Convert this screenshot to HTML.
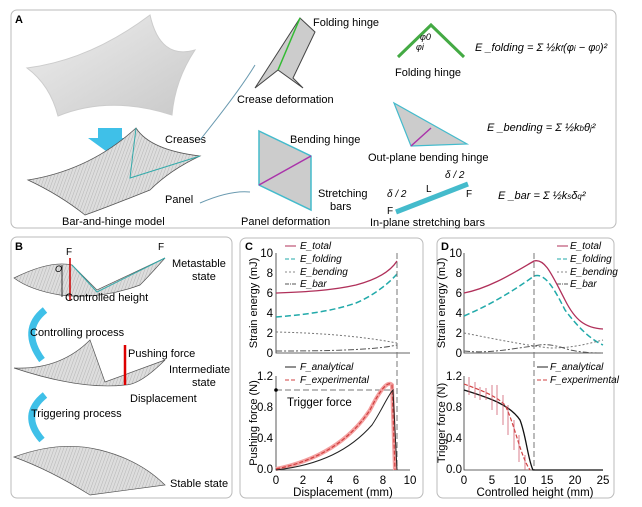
<!DOCTYPE html>
<html><head><meta charset="utf-8"><style>
body{margin:0;background:#fff}
svg{display:block;font-family:"Liberation Sans",sans-serif}
</style></head><body>
<svg width="642" height="507" viewBox="0 0 642 507">
<defs>
<linearGradient id="g1" x1="0" y1="0" x2="1" y2="1"><stop offset="0" stop-color="#eee"/><stop offset="1" stop-color="#c9c9c9"/></linearGradient>
<pattern id="hatch" width="3" height="3" patternUnits="userSpaceOnUse" patternTransform="rotate(20)"><rect width="3" height="3" fill="#ddd"/><line x1="0" y1="0" x2="0" y2="3" stroke="#999" stroke-width="0.6"/></pattern>
</defs>
<!-- panel boxes -->
<rect x="11" y="10" width="605" height="218" rx="6" fill="none" stroke="#bbb"/>
<rect x="11" y="237" width="221" height="261" rx="6" fill="none" stroke="#bbb"/>
<rect x="240" y="238" width="183" height="260" rx="6" fill="none" stroke="#bbb"/>
<rect x="437" y="238" width="177" height="260" rx="6" fill="none" stroke="#bbb"/>
<g font-weight="bold" font-size="11"><text x="15" y="23">A</text><text x="15" y="250">B</text><text x="245" y="250">C</text><text x="441" y="250">D</text></g>

<!-- Panel A illustrations -->
<path d="M27,68 Q90,60 150,15 Q160,60 195,50 Q175,80 172,115 Q110,95 58,116 Q50,85 27,68Z" fill="url(#g1)" stroke="#ccc"/>
<path d="M98,128 h24 v10 h10 l-22,16 l-22,-16 h10z" fill="#3fc0e8"/>
<path d="M28,180 Q90,170 136,128 Q150,150 200,156 Q170,170 150,190 Q100,210 85,215 Q60,195 28,180Z" fill="url(#hatch)" stroke="#555" stroke-width="0.8"/>
<path d="M136,128 L130,178 L200,156" fill="none" stroke="#3aa" stroke-width="1"/>
<text x="165" y="143" font-size="11">Creases</text>
<text x="165" y="203" font-size="11">Panel</text>
<text x="62" y="225" font-size="11">Bar-and-hinge model</text>
<path d="M200,140 Q240,90 255,65" fill="none" stroke="#6a9ab0"/>
<path d="M200,203 Q230,190 250,192" fill="none" stroke="#6a9ab0"/>
<path d="M255,88 L300,18 L315,32 L293,78 L303,88 L278,70 Z" fill="#ccc" stroke="#444"/>
<line x1="300" y1="18" x2="278" y2="70" stroke="#3b3" stroke-width="1.5"/>
<text x="313" y="26" font-size="11">Folding hinge</text>
<text x="237" y="103" font-size="11">Crease deformation</text>
<path d="M259,131 L311,156 L311,210 L259,185Z" fill="#ccc" stroke="#4bc" stroke-width="1.5"/>
<line x1="259" y1="185" x2="311" y2="156" stroke="#a3a" stroke-width="1.5"/>
<text x="290" y="143" font-size="11">Bending hinge</text>
<text x="318" y="197" font-size="11">Stretching</text><text x="330" y="210" font-size="11">bars</text>
<text x="241" y="225" font-size="11">Panel deformation</text>
<path d="M398,57 L431,25 L464,57" fill="none" stroke="#4a4" stroke-width="3"/>
<text x="420" y="40" font-size="9" font-style="italic">φ0</text><text x="416" y="50" font-size="9" font-style="italic">φi</text>
<text x="395" y="76" font-size="11">Folding hinge</text>
<text x="475" y="51" font-size="11" font-style="italic">E _folding = Σ ½k<tspan font-size="8">f</tspan>(φ<tspan font-size="8">i</tspan> − φ<tspan font-size="8">0</tspan>)²</text>
<path d="M394,103 L411,146 L467,144Z" fill="#ccc" stroke="#4bc" stroke-width="1.2"/>
<line x1="411" y1="146" x2="431" y2="128" stroke="#a3a" stroke-width="1.5"/>
<text x="368" y="161" font-size="11">Out-plane bending hinge</text>
<text x="487" y="131" font-size="11" font-style="italic">E _bending = Σ ½k<tspan font-size="8">b</tspan>θ<tspan font-size="8">j</tspan>²</text>
<line x1="396" y1="212" x2="468" y2="184" stroke="#4bc" stroke-width="5"/>
<text x="387" y="197" font-size="10" font-style="italic">δ / 2</text><text x="426" y="192" font-size="10">L</text><text x="445" y="178" font-size="10" font-style="italic">δ / 2</text>
<text x="387" y="214" font-size="10">F</text><text x="466" y="197" font-size="10">F</text>
<text x="370" y="226" font-size="11">In-plane stretching bars</text>
<text x="498" y="199" font-size="11" font-style="italic">E _bar = Σ ½k<tspan font-size="8">s</tspan>δ<tspan font-size="8">q</tspan>²</text>

<!-- Panel B -->
<path d="M14,278 Q50,260 72,265 L97,290 L165,258 Q150,275 140,285 Q100,300 60,295 Q30,290 14,278Z" fill="url(#hatch)" stroke="#555" stroke-width="0.7"/>
<path d="M72,265 L97,292 L165,258" fill="none" stroke="#3aa"/>
<text x="172" y="267" font-size="11">Metastable</text><text x="192" y="280" font-size="11">state</text>
<line x1="70" y1="258" x2="70" y2="300" stroke="#c00" stroke-width="1.5"/><text x="66" y="255" font-size="10">F</text><text x="158" y="250" font-size="10">F</text>
<line x1="62" y1="265" x2="62" y2="297" stroke="#333"/><text x="55" y="272" font-size="9" font-style="italic">O</text>
<text x="65" y="301" font-size="11">Controlled height</text>
<path d="M45,310 Q20,330 42,360" fill="none" stroke="#3fc0e8" stroke-width="7"/>
<text x="30" y="336" font-size="11">Controlling process</text>
<path d="M14,368 Q60,370 90,340 L105,382 L165,360 Q140,385 125,385 Q80,390 14,368Z" fill="url(#hatch)" stroke="#555" stroke-width="0.7"/>
<line x1="125" y1="345" x2="125" y2="385" stroke="#d00" stroke-width="2.5"/>
<text x="128" y="357" font-size="11">Pushing force</text>
<text x="169" y="373" font-size="11">Intermediate</text><text x="192" y="386" font-size="11">state</text>
<text x="130" y="402" font-size="11">Displacement</text>
<path d="M45,395 Q20,415 42,440" fill="none" stroke="#3fc0e8" stroke-width="7"/>
<text x="31" y="417" font-size="11">Triggering process</text>
<path d="M14,457 Q60,440 100,450 Q140,460 165,485 L90,495 Q50,470 14,457Z" fill="url(#hatch)" stroke="#555" stroke-width="0.7"/>
<text x="170" y="487" font-size="11">Stable state</text>

<!-- Panel C -->
<g font-size="12" fill="none" stroke="#333" stroke-width="0.8">
<path d="M276,253 V353 H410"/><path d="M276,376 V470 H410"/>
<path d="M464,253 V353 H603"/><path d="M464,376 V470 H603"/>
</g>
<g font-size="11.5" text-anchor="end">
<text x="273" y="257">10</text><text x="273" y="277">8</text><text x="273" y="297">6</text><text x="273" y="317">4</text><text x="273" y="337">2</text><text x="273" y="357">0</text>
<text x="273" y="380">1.2</text><text x="273" y="411">0.8</text><text x="273" y="442">0.4</text><text x="273" y="473">0.0</text>
<text x="462" y="257">10</text><text x="462" y="277">8</text><text x="462" y="297">6</text><text x="462" y="317">4</text><text x="462" y="337">2</text><text x="462" y="357">0</text>
<text x="462" y="380">1.2</text><text x="462" y="411">0.8</text><text x="462" y="442">0.4</text><text x="462" y="473">0.0</text>
</g>
<g font-size="11.5" text-anchor="middle">
<text x="276" y="484">0</text><text x="303" y="484">2</text><text x="330" y="484">4</text><text x="356" y="484">6</text><text x="383" y="484">8</text><text x="410" y="484">10</text>
<text x="343" y="496">Displacement (mm)</text>
<text x="464" y="484">0</text><text x="492" y="484">5</text><text x="520" y="484">10</text><text x="547" y="484">15</text><text x="575" y="484">20</text><text x="603" y="484">25</text>
<text x="535" y="496">Controlled height (mm)</text>
</g>
<g font-size="11" text-anchor="middle">
<text transform="translate(257,303) rotate(-90)">Strain energy (mJ)</text>
<text transform="translate(257,423) rotate(-90)">Pushing force (N)</text>
<text transform="translate(445,303) rotate(-90)">Strain energy (mJ)</text>
<text transform="translate(445,423) rotate(-90)">Trigger force (N)</text>
</g>
<!-- C curves -->
<g fill="none">
<path d="M276,293 C300,292 330,291 356,285 C375,280 390,272 397,261" stroke="#b0305a" stroke-width="1.3"/>
<path d="M276,317 C300,315 330,312 356,303 C375,295 390,282 397,274" stroke="#2aa" stroke-width="1.5" stroke-dasharray="6,3"/>
<path d="M276,332 C320,333 360,336 397,343" stroke="#777" stroke-width="1" stroke-dasharray="2,2"/>
<path d="M276,351 C330,351 375,350 397,345" stroke="#555" stroke-width="1" stroke-dasharray="6,2,2,2"/>
<line x1="397" y1="253" x2="397" y2="470" stroke="#777" stroke-dasharray="6,3"/>
<line x1="276" y1="390" x2="392" y2="390" stroke="#777" stroke-dasharray="6,3"/>
<path d="M276,469 C320,460 350,440 370,410 C380,390 388,380 392,385 L395,470" stroke="#f4a0a0" stroke-width="4"/>
<path d="M276,469 C320,460 350,440 370,410 C380,390 388,380 392,385 L395,470" stroke="#d04040" stroke-width="1.2" stroke-dasharray="4,2"/>
<path d="M276,470 C320,465 350,450 372,425 C382,410 388,395 393,390 L397,470" stroke="#222" stroke-width="1"/>
</g>
<circle cx="276" cy="390" r="1.8" fill="#000"/>
<text x="287" y="406" font-size="11.5">Trigger force</text>
<g font-size="10" font-style="italic">
<line x1="285" y1="246" x2="296" y2="246" stroke="#b0305a"/><text x="300" y="249">E_total</text>
<line x1="285" y1="259" x2="296" y2="259" stroke="#2aa" stroke-dasharray="4,2"/><text x="300" y="262">E_folding</text>
<line x1="285" y1="272" x2="296" y2="272" stroke="#888" stroke-dasharray="2,2"/><text x="300" y="275">E_bending</text>
<line x1="285" y1="284" x2="296" y2="284" stroke="#555" stroke-dasharray="4,1,1,1"/><text x="300" y="287">E_bar</text>
<line x1="285" y1="367" x2="296" y2="367" stroke="#222"/><text x="300" y="370">F_analytical</text>
<line x1="285" y1="380" x2="296" y2="380" stroke="#d04040" stroke-dasharray="4,2"/><text x="300" y="383">F_experimental</text>
<line x1="557" y1="246" x2="568" y2="246" stroke="#b0305a"/><text x="570" y="249">E_total</text>
<line x1="557" y1="259" x2="568" y2="259" stroke="#2aa" stroke-dasharray="4,2"/><text x="570" y="262">E_folding</text>
<line x1="557" y1="272" x2="568" y2="272" stroke="#888" stroke-dasharray="2,2"/><text x="570" y="275">E_bending</text>
<line x1="557" y1="284" x2="568" y2="284" stroke="#555" stroke-dasharray="4,1,1,1"/><text x="570" y="287">E_bar</text>
<line x1="537" y1="367" x2="548" y2="367" stroke="#222"/><text x="550" y="370">F_analytical</text>
<line x1="537" y1="380" x2="548" y2="380" stroke="#d04040" stroke-dasharray="4,2"/><text x="550" y="383">F_experimental</text>
</g>
<!-- D curves -->
<g fill="none">
<path d="M464,293 C490,288 515,272 534,261 C545,258 552,275 565,300 C575,320 585,328 603,329" stroke="#b0305a" stroke-width="1.3"/>
<path d="M464,316 C490,305 515,290 534,276 C545,272 555,290 565,310 C580,330 592,340 603,345" stroke="#2aa" stroke-width="1.5" stroke-dasharray="6,3"/>
<path d="M464,333 C500,340 530,346 550,348 C575,348 590,343 603,340" stroke="#777" stroke-dasharray="2,2"/>
<path d="M464,351 C490,354 515,348 534,346 C545,343 555,345 570,350 C585,353 595,353 603,353" stroke="#555" stroke-dasharray="6,2,2,2"/>
<line x1="534" y1="253" x2="534" y2="470" stroke="#777" stroke-dasharray="6,3"/>
<path d="M464,390 C490,398 510,405 520,420 C526,435 528,460 533,470 L603,470" stroke="#111" stroke-width="1.3"/>
<path d="M464,384 C480,390 495,395 505,405 C515,425 520,455 530,470" stroke="#d04040" stroke-width="1.2" stroke-dasharray="4,2"/>
<g stroke="#d06070" stroke-width="0.8"><path d="M469,377V395M475,382V398M480,387V400M486,388V400M492,385V410M497,385V415M503,395V425M508,405V435M514,420V450M519,435V462M525,455V470"/></g>
</g>
</svg>
</body></html>
